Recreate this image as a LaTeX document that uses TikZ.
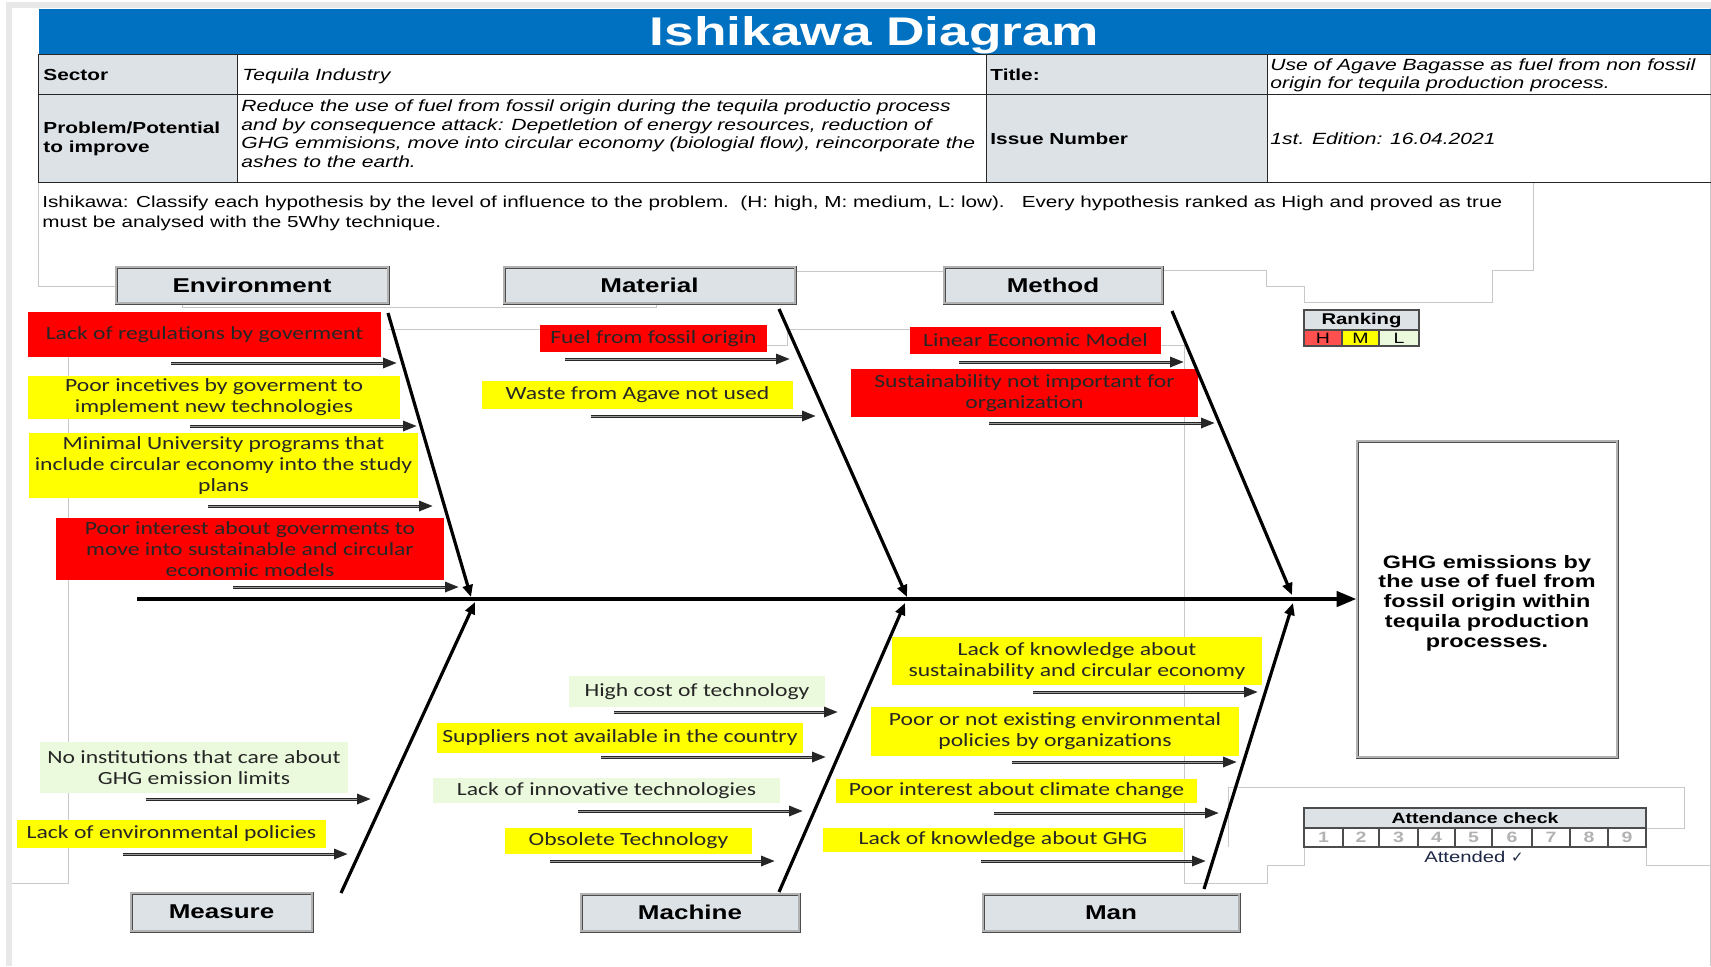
\documentclass[tikz,border=0pt]{standalone}
\usepackage{fontspec}
\setmainfont[FakeStretch=1.3]{Liberation Sans}
\newfontfamily\calfont[FakeStretch=1.27]{Carlito}
\newfontfamily\ttlfont[FakeStretch=1.33]{Liberation Sans}
\newfontfamily\symfont{DejaVu Sans}
\usetikzlibrary{arrows.meta}
\definecolor{hdrblue}{RGB}{0,112,192}
\definecolor{lblgrey}{RGB}{221,226,231}
\definecolor{hired}{RGB}{255,0,0}
\definecolor{myyel}{RGB}{255,255,0}
\definecolor{lgreen}{RGB}{235,250,220}
\definecolor{rankred}{RGB}{255,80,80}
\definecolor{faintc}{RGB}{200,200,200}
\definecolor{stripc}{RGB}{232,232,232}
\definecolor{navy}{RGB}{30,40,70}
\begin{document}
\begin{tikzpicture}[x=0.5pt,y=-0.5pt,
  wh/.style n args={2}{minimum width=#1pt,minimum height=#2pt},
  faint/.style={draw=faintc,line width=0.5pt},
  cell/.style={rectangle,draw=black!85,line width=0.7pt,inner sep=0pt,anchor=north west},
  lbltext/.style={anchor=west,inner sep=0pt,font=\bfseries\fontsize{8}{9.6}\selectfont,align=left},
  ittext/.style={anchor=west,inner sep=0pt,font=\itshape\fontsize{8.1}{9.25}\selectfont,align=left},
  cause/.style={rectangle,inner sep=0pt,align=center,text=black!85,font=\calfont\fontsize{9.3}{10.5}\selectfont},
  catbox/.style={rectangle,draw=black!70,line width=0.45pt,double=black!30,double distance=0.6pt,fill=lblgrey,inner sep=0pt,font=\bfseries\fontsize{10}{12}\selectfont},
  carrow/.style={draw=black!85,line width=1.5pt,-{Triangle[length=7pt,width=5pt]},
     postaction={draw=black!40,line width=0.35pt,-,shorten >=7pt}},
  bone/.style={draw=black,line width=1.6pt,-{Triangle[length=6pt,width=5pt]}},
  spine/.style={draw=black,line width=2.2pt,-{Triangle[length=10pt,width=7.5pt]}},
  rk/.style={rectangle,draw=black!70,line width=0.6pt,inner sep=0pt,font=\fontsize{7.5}{8}\selectfont},
]
\useasboundingbox (0,0) rectangle (1711,966);
\fill[white] (0,0) rectangle (1711,966);
% outer frame strips
\fill[stripc] (6,2) rectangle (1711,8);
\fill[stripc] (6,2) rectangle (12,966);
\draw[faint] (1710,8) -- (1710,966);

% faint background outlines
\draw[faint] (38,182) -- (38,286) -- (116,286);
\draw[faint] (182,303) -- (182,307) -- (656,307) -- (656,303);
\draw[faint] (795,271) -- (944,271);
\draw[faint] (1162,270) -- (1266,270) -- (1266,286) -- (1304,286) -- (1304,302) -- (1492,302) -- (1492,270) -- (1533,270) -- (1533,182);
\draw[faint] (388,329) -- (540,329);
\draw[faint] (767,345) -- (787,345) -- (787,329) -- (910,329);
\draw[faint] (1161,345) -- (1184,345) -- (1184,883) -- (1267,883) -- (1267,865) -- (1304,865) -- (1304,847);
\draw[faint] (1228,847) -- (1228,787) -- (1684,787) -- (1684,828) -- (1646,828);
\draw[faint] (1646,847) -- (1646,865) -- (1711,865);
\draw[faint] (68,340) -- (68,883) -- (12,883);

% header
\node[cell,fill=hdrblue,draw=none,wh={836.5}{23}] (hdr) at (38,8) {};
\node[anchor=base,inner sep=0pt,font=\ttlfont\bfseries\fontsize{20}{24}\selectfont,text=white] (hdrT) at (874.5,45) {Ishikawa Diagram};
\node[cell,fill=lblgrey,wh={99.5}{20}] (sectL) at (38,54) {};
\node[cell,wh={374.5}{20}] (sectV) at (237,54) {};
\node[cell,fill=lblgrey,wh={140.5}{20}] (titL) at (986,54) {};
\node[cell,wh={222}{20}] (titV) at (1267,54) {};
\node[cell,fill=lblgrey,wh={99.5}{44}] (probL) at (38,94) {};
\node[cell,wh={374.5}{44}] (probV) at (237,94) {};
\node[cell,fill=lblgrey,wh={140.5}{44}] (issL) at (986,94) {};
\node[cell,wh={222}{44}] (issV) at (1267,94) {};

\node[lbltext] (tSect) at (43,75) {Sector};
\node[ittext] (tTeq) at (242,76) {Tequila Industry};
\node[lbltext] (tTit) at (990,75) {Title:};
\node[ittext] (tUse) at (1270,75.5) {Use of Agave Bagasse as fuel from non fossil\\origin for tequila production process.};
\node[lbltext,font=\bfseries\fontsize{8}{9.5}\selectfont] (tProb) at (43,138.5) {Problem/Potential\\to improve};
\node[ittext] (tRed) at (241,133.5) {Reduce the use of fuel from fossil origin during the tequila productio process\\and by consequence attack: Depetletion of energy resources, reduction of\\GHG emmisions, move into circular economy (biologial flow), reincorporate the\\ashes to the earth.};
\node[lbltext] (tIss) at (990,139) {Issue Number};
\node[ittext] (tEd) at (1270,139) {1st. Edition: 16.04.2021};
\node[anchor=west,inner sep=0pt,align=left,font=\fontsize{7.95}{10}\selectfont] (tInstr) at (42,213.5) {Ishikawa: Classify each hypothesis by the level of influence to the problem.\ \ (H: high, M: medium, L: low).\ \ \ Every hypothesis ranked as High and proved as true\\must be analysed with the 5Why technique.};

% category boxes
\node[catbox,wh={136}{18}] (env) at (252,285) {Environment};
\node[catbox,wh={145.5}{18}] (mat) at (649.5,285) {Material};
\node[catbox,wh={109}{18}] (met) at (1053,285) {Method};
\node[catbox,wh={90.5}{19}] (mea) at (221.5,912) {Measure};
\node[catbox,wh={109}{18.5}] (mac) at (690,912.5) {Machine};
\node[catbox,wh={128}{18.5}] (man) at (1111,912.5) {Man};

% effect box
\node[rectangle,draw=black!70,line width=0.45pt,double=black!30,double distance=0.6pt,fill=white,wh={130}{158}] (eff) at (1487,599) {};
\node[inner sep=0pt,align=center,font=\bfseries\fontsize{9}{9.9}\selectfont] (effT) at (1487,603) {GHG emissions by\\the use of fuel from\\fossil origin within\\tequila production\\processes.};

% ranking legend
\node[rk,fill=lblgrey,wh={57.5}{10},font=\bfseries\fontsize{7.8}{8}\selectfont] (rkh) at (1361.5,320) {Ranking};
\node[rk,fill=rankred,wh={19}{8}] (rkH) at (1323,338) {H};
\node[rk,fill=myyel,wh={18.5}{8}] (rkM) at (1360.5,338) {M};
\node[rk,fill=lgreen,wh={20}{8}] (rkL) at (1399,338) {L};

% attendance check
\node[rk,fill=lblgrey,wh={171}{10},font=\bfseries\fontsize{7.5}{8}\selectfont] (atth) at (1475,818) {Attendance check};
\foreach \n/\cx/\w in {1/1323.5/19.5,2/1361/18,3/1398.5/19.5,4/1436.5/18.5,5/1473.5/18.5,6/1512/20,7/1551/19,8/1589/19,9/1627/19}{
  \node[rk,fill=white,wh={\w}{9.5},text=black!30,font=\bfseries\fontsize{7.5}{8}\selectfont] (att\n) at (\cx,837.5) {\n};
}
\node[inner sep=0pt,text=navy,font=\fontsize{7.8}{8}\selectfont] (attd) at (1474,857) {Attended {\symfont\fontsize{7.5}{8}\selectfont ✓}};

% cause boxes
\node[cause,fill=hired,wh={176.5}{22.5}] (c1) at (204.5,334.5) {Lack of regulations by goverment};
\node[cause,fill=myyel,wh={186}{21.5}] (c2) at (214,397.5) {Poor incetives by goverment to\\implement new technologies};
\node[cause,fill=myyel,wh={194.5}{32.5}] (c3) at (223.5,465.5) {Minimal University programs that\\include circular economy into the study\\plans};
\node[cause,fill=hired,wh={194}{31}] (c4) at (250,549) {Poor interest about goverments to\\move into sustainable and circular\\economic models};
\node[cause,fill=hired,wh={113.5}{13.5}] (c5) at (653.5,338.5) {Fuel from fossil origin};
\node[cause,fill=myyel,wh={155.5}{14}] (c6) at (637.5,395) {Waste from Agave not used};
\node[cause,fill=hired,wh={125.5}{13.5}] (c7) at (1035.5,340.5) {Linear Economic Model};
\node[cause,fill=hired,wh={173.5}{24}] (c8) at (1024.5,393) {Sustainability not important for\\organization};
\node[cause,fill=lgreen,wh={154}{25.5}] (c9) at (194,767.5) {No institutions that care about\\GHG emission limits};
\node[cause,fill=myyel,wh={154.5}{14}] (c10) at (171.5,834) {Lack of environmental policies};
\node[cause,fill=lgreen,wh={128}{15.5}] (c11) at (697,691.5) {High cost of technology};
\node[cause,fill=myyel,wh={183}{15}] (c12) at (620,738) {Suppliers not available in the country};
\node[cause,fill=lgreen,wh={173.5}{12.5}] (c13) at (606.5,790.5) {Lack of innovative technologies};
\node[cause,fill=myyel,wh={123.5}{13}] (c14) at (628.5,841) {Obsolete Technology};
\node[cause,fill=myyel,wh={185}{24}] (c15) at (1077,661) {Lack of knowledge about\\sustainability and circular economy};
\node[cause,fill=myyel,wh={184}{24.5}] (c16) at (1055,731.5) {Poor or not existing environmental\\policies by organizations};
\node[cause,fill=myyel,wh={180.5}{12}] (c17) at (1016.5,791) {Poor interest about climate change};
\node[cause,fill=myyel,wh={180}{12}] (c18) at (1003,840) {Lack of knowledge about GHG};

% cause arrow coordinates
\foreach \i/\xa/\xb/\yy in {1/171/397/363,2/190/417/426,3/208/433/506,4/233/459/587,5/565/790/359,6/591/816/416,7/959/1184/362,8/989/1215/423,9/146/371/799,10/123/348/854,11/614/838/712,12/601/826/757,13/578/803/811,14/550/775/861,15/1033/1258/692,16/1012/1237/762,17/994/1219/813,18/981/1206/861}{
  \coordinate (a\i s) at (\xa,\yy);
  \coordinate (a\i e) at (\xb,\yy);
  \draw[carrow] (a\i s) -- (a\i e);
}

% bones
\coordinate (bEnvS) at (388,313); \coordinate (bEnvT) at (471,597);
\coordinate (bMatS) at (779,309); \coordinate (bMatT) at (907,597);
\coordinate (bMetS) at (1172,311); \coordinate (bMetT) at (1292,595);
\coordinate (bMeaS) at (341,893); \coordinate (bMeaT) at (475,602);
\coordinate (bMacS) at (779,892); \coordinate (bMacT) at (905,603);
\coordinate (bManS) at (1204,889); \coordinate (bManT) at (1293,603);
\draw[bone] (bEnvS) -- (bEnvT);
\draw[bone] (bMatS) -- (bMatT);
\draw[bone] (bMetS) -- (bMetT);
\draw[bone] (bMeaS) -- (bMeaT);
\draw[bone] (bMacS) -- (bMacT);
\draw[bone] (bManS) -- (bManT);

% spine
\coordinate (spS) at (137,599);
\draw[spine] (spS) -- (eff.west);
\end{tikzpicture}
\end{document}
